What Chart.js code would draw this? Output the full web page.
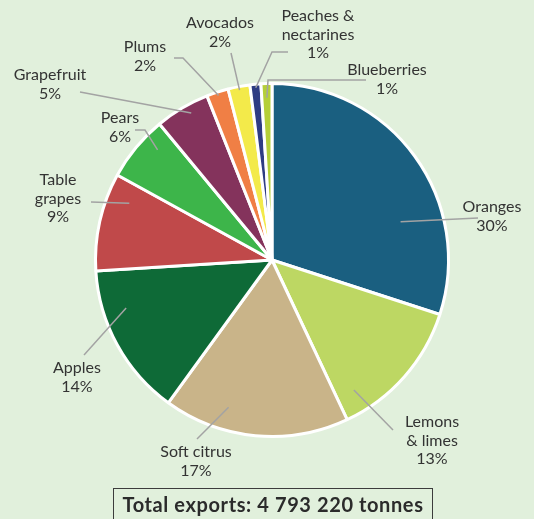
<!DOCTYPE html>
<html>
<head>
<meta charset="utf-8">
<script src="https://cdn.jsdelivr.net/npm/chart.js@4/dist/chart.umd.min.js"></script>
<style>
  html, body { margin: 0; padding: 0; background: #e1f0dc; }
  #wrap { position: relative; width: 534px; height: 519px; overflow: hidden; }
  #c { display: block; }
  #total {
    position: absolute; left: 113px; top: 488px; width: 320px; height: 36px;
    box-sizing: border-box; border: 1.5px solid #3c3c3c;
    font: bold 20px Lato, "Noto Sans", sans-serif; color: #2b2b2b;
    text-align: center; line-height: 31px; letter-spacing: 0.6px;
  }
</style>
</head>
<body>
<div id="wrap">
  <canvas id="c" width="534" height="519"></canvas>
  <div id="total"></div>
</div>
<script>
// Fruit export shares (percent of total tonnage), clockwise from 12 o'clock
const categories = [
  ['Oranges'], ['Lemons', '& limes'], ['Soft citrus'], ['Apples'],
  ['Table', 'grapes'], ['Pears'], ['Grapefruit'], ['Plums'],
  ['Avocados'], ['Peaches &', 'nectarines'], ['Blueberries']
];
const shares = [30, 13, 17, 14, 9, 6, 5, 2, 2, 1, 1];
const sliceColors = [
  '#1a5f80', '#bdd763', '#c9b489', '#0e6a37', '#c0494a', '#3db54a',
  '#84335c', '#f07f45', '#f3ea4a', '#2e3c83', '#b5cf38'
];
const totalTonnes = '4 793 220';

// Callout layout: t = where along the slice the leader starts (0..1),
// r = radial fraction of the start, via = leader points out to the text,
// at = centre of the first text line.
const callouts = [
  { t: 0.68, r: 0.76, via: [[478, 218]], at: [492, 207] },
  { t: 0.85, r: 0.87, via: [[393, 430]], at: [432, 422] },
  { t: 0.68, r: 0.87, via: [[197, 439]], at: [196, 452] },
  { t: 0.71, r: 0.87, via: [[84, 355]], at: [77, 368] },
  { t: 0.78, r: 0.87, via: [[91, 202]], at: [58, 180] },
  { t: 0.70, r: 0.90, via: [[145, 130], [135, 130]], at: [120, 118] },
  { t: 0.60, r: 0.95, via: [[80, 92]], at: [50, 75] },
  { t: 0.50, r: 0.98, via: [[183, 58], [174, 58]], at: [145, 47] },
  { t: 0.50, r: 0.98, via: [[231, 53]], at: [220, 23] },
  { t: 0.50, r: 0.98, via: [[272, 52], [288, 52]], at: [318, 16] },
  { t: 0.50, r: 0.92, via: [[268, 80], [366, 80]], at: [387, 70] }
];

document.getElementById('total').textContent = 'Total exports: ' + totalTonnes + ' tonnes';

const calloutPlugin = {
  id: 'callouts',
  afterDatasetsDraw(chart) {
    const ctx = chart.ctx;
    const meta = chart.getDatasetMeta(0);
    ctx.save();
    meta.data.forEach((arc, i) => {
      const c = callouts[i];
      const p = arc.getProps(['x', 'y', 'startAngle', 'endAngle', 'outerRadius'], true);
      const a = p.startAngle + (p.endAngle - p.startAngle) * c.t;
      const rr = p.outerRadius * c.r;
      const sx = p.x + Math.cos(a) * rr;
      const sy = p.y + Math.sin(a) * rr;
      ctx.beginPath();
      ctx.moveTo(sx, sy);
      c.via.forEach(pt => ctx.lineTo(pt[0], pt[1]));
      ctx.strokeStyle = '#a3a3a3';
      ctx.lineWidth = 1.5;
      ctx.stroke();

      const lines = categories[i].concat([shares[i] + '%']);
      ctx.fillStyle = '#333333';
      ctx.font = '16px Lato, "Noto Sans", sans-serif';
      ctx.textAlign = 'center';
      ctx.textBaseline = 'middle';
      lines.forEach((s, k) => ctx.fillText(s, c.at[0], c.at[1] + k * 18.5));
    });
    ctx.restore();
  }
};

new Chart(document.getElementById('c'), {
  type: 'pie',
  data: {
    labels: categories.map(l => l.join(' ')),
    datasets: [{
      data: shares,
      backgroundColor: sliceColors,
      borderColor: '#ffffff',
      borderWidth: 3
    }]
  },
  options: {
    responsive: false,
    animation: false,
    devicePixelRatio: 1,
    layout: { padding: { left: 94, right: 84, top: 82, bottom: 81 } },
    plugins: {
      legend: { display: false },
      tooltip: { enabled: false }
    }
  },
  plugins: [calloutPlugin]
});
</script>
</body>
</html>
